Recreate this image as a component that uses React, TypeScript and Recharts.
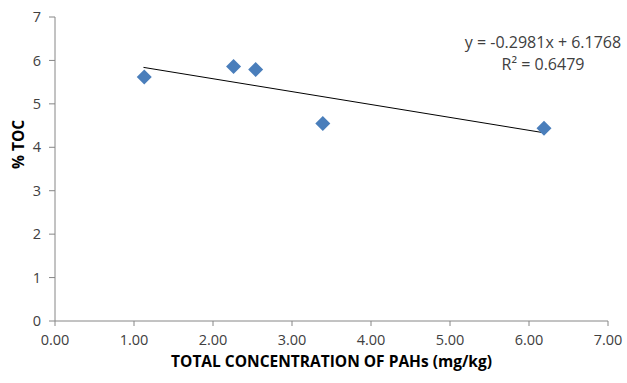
import { ReferenceLine, Scatter, ScatterChart, XAxis, YAxis } from "recharts";

const PAHS = [1.13, 2.26, 2.54, 3.39, 6.19];
const TOC = [5.62, 5.86, 5.79, 4.55, 4.44];
const TREND_X = [1.12, 6.17];
const TREND_Y = [5.84, 4.34];
const X_TICKS = [0, 1, 2, 3, 4, 5, 6, 7];
const Y_TICKS = [0, 1, 2, 3, 4, 5, 6, 7];
const EQUATION = "y = -0.2981x + 6.1768";
const R_SQUARED = "R² = 0.6479";

const FONT = "'Open Sans', 'Noto Sans', sans-serif";
const AXIS = "#868686";
const TEXT = "#404040";

const Diamond = (props: any) => {
  const { cx, cy } = props;
  const r = 7.5;
  return (
    <path
      d={`M${cx},${cy - r} L${cx + r},${cy} L${cx},${cy + r} L${cx - r},${cy} Z`}
      fill="#4A7EBB"
    />
  );
};

export default function App() {
  const data = PAHS.map((x, i) => ({ x, y: TOC[i] }));
  const trend = TREND_X.map((x, i) => ({ x, y: TREND_Y[i] }));

  return (
    <div style={{ position: "absolute", top: 0, left: 0, width: 627, height: 383, background: "#fff", fontFamily: FONT }}>
      <ScatterChart width={627} height={383} margin={{ top: 17, right: 19, bottom: 0, left: 0 }}>
        <XAxis
          type="number"
          dataKey="x"
          domain={[0, 7]}
          ticks={X_TICKS}
          tickFormatter={(v) => v.toFixed(2)}
          height={62}
          stroke={AXIS}
          tick={{ fill: TEXT, fontSize: 14.5, fontFamily: FONT }}
          tickSize={5}
          tickMargin={9}
          label={{
            value: "TOTAL CONCENTRATION OF PAHs (mg/kg)",
            position: "insideBottom",
            offset: 16,
            fill: "#000",
            fontSize: 15.5,
            fontWeight: 700,
            fontFamily: FONT,
          }}
        />
        <YAxis
          type="number"
          dataKey="y"
          domain={[0, 7]}
          ticks={Y_TICKS}
          width={55}
          stroke={AXIS}
          tick={{ fill: TEXT, fontSize: 14.5, fontFamily: FONT }}
          tickSize={6}
          tickMargin={8}
          label={{
            value: "% TOC",
            angle: -90,
            position: "insideLeft",
            offset: 18,
            fill: "#000",
            fontSize: 15.5,
            fontWeight: 700,
            fontFamily: FONT,
          }}
        />
        <ReferenceLine segment={[trend[0], trend[1]]} stroke="#000" strokeWidth={1} />
        <Scatter data={data} shape={<Diamond />} legendType="none" isAnimationActive={false} />
      </ScatterChart>
      <div
        style={{
          position: "absolute",
          left: 443,
          top: 31,
          width: 200,
          textAlign: "center",
          fontSize: 16,
          lineHeight: "22px",
          color: TEXT,
        }}
      >
        <div>{EQUATION}</div>
        <div>{R_SQUARED}</div>
      </div>
    </div>
  );
}
